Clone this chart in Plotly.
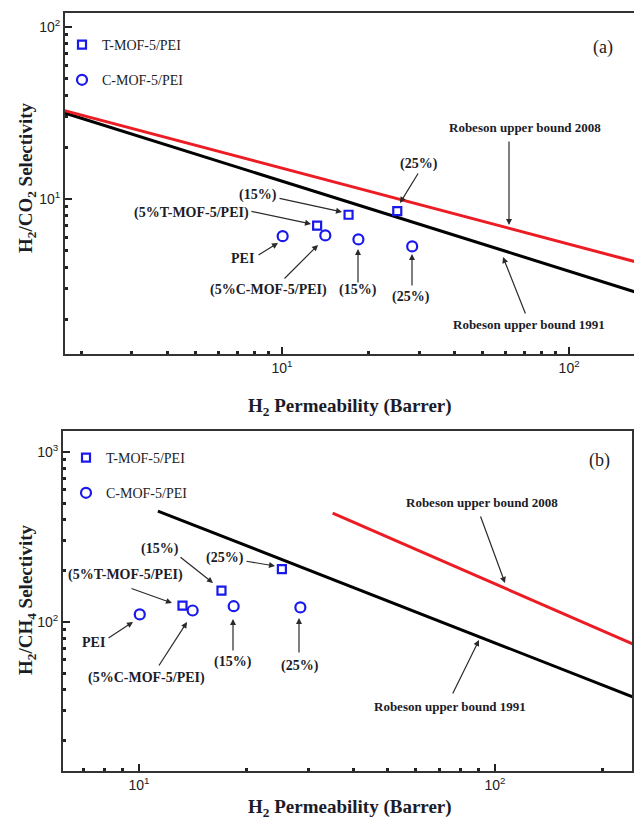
import plotly.graph_objects as go

W, H = 634, 819

# ---------------- data ----------------
perm_T = [13.25, 17.05, 25.2]            # T-MOF-5/PEI : 5 %, 15 %, 25 %
perm_C = [10.05, 14.15, 18.45, 28.4]     # PEI, C-MOF-5/PEI : 5 %, 15 %, 25 %
sel_co2_T = [7.0, 8.1, 8.5]
sel_co2_C = [6.08, 6.14, 5.82, 5.3]
sel_ch4_T = [125, 153, 205]
sel_ch4_C = [111, 117, 124, 122]

rob91_co2_x = [1.73, 169]
rob91_co2_y = [31.8, 2.89]
rob08_co2_x = [1.73, 169]
rob08_co2_y = [32.8, 4.33]
rob91_ch4_x = [11.3, 245]
rob91_ch4_y = [450, 36.2]
rob08_ch4_x = [35, 245]
rob08_ch4_y = [438, 74]

tick_vals_x = [10, 100]
tick_text_x = ["10<sup>1</sup>", "10<sup>2</sup>"]
tick_vals_y_top = [10, 100]
tick_text_y_top = ["10<sup>1</sup>", "10<sup>2</sup>"]
tick_vals_y_bot = [100, 1000]
tick_text_y_bot = ["10<sup>2</sup>", "10<sup>3</sup>"]
minor_digits = [2, 3, 4, 5, 6, 7, 8, 9]
minor_decades = [1, 10, 100, 1000]
minor_vals = [d * m for d in minor_decades for m in minor_digits]

BLUE = "rgb(25,25,235)"
RED = "rgb(237,28,36)"
SERIF = "Liberation Serif, Times New Roman, serif"
SANS = "Liberation Sans Narrow, Arial Narrow, Liberation Sans, Arial, sans-serif"
TXT = "#1c1c28"

fig = go.Figure()

# top panel
fig.add_trace(go.Scatter(x=rob91_co2_x, y=rob91_co2_y, mode="lines", line=dict(color="black", width=3),
                         showlegend=False, xaxis="x", yaxis="y"))
fig.add_trace(go.Scatter(x=rob08_co2_x, y=rob08_co2_y, mode="lines", line=dict(color=RED, width=3),
                         showlegend=False, xaxis="x", yaxis="y"))
fig.add_trace(go.Scatter(x=perm_T, y=sel_co2_T, mode="markers", name="T-MOF-5/PEI",
                         marker=dict(symbol="square-open", size=8, color=BLUE, line=dict(width=2.2)),
                         xaxis="x", yaxis="y", legend="legend", legendgroup="a1"))
fig.add_trace(go.Scatter(x=perm_C, y=sel_co2_C, mode="markers", name="C-MOF-5/PEI",
                         marker=dict(symbol="circle-open", size=10, color=BLUE, line=dict(width=2.2)),
                         xaxis="x", yaxis="y", legend="legend", legendgroup="a2"))

# bottom panel
fig.add_trace(go.Scatter(x=rob91_ch4_x, y=rob91_ch4_y, mode="lines", line=dict(color="black", width=3),
                         showlegend=False, xaxis="x2", yaxis="y2"))
fig.add_trace(go.Scatter(x=rob08_ch4_x, y=rob08_ch4_y, mode="lines", line=dict(color=RED, width=3),
                         showlegend=False, xaxis="x2", yaxis="y2"))
fig.add_trace(go.Scatter(x=perm_T, y=sel_ch4_T, mode="markers", name="T-MOF-5/PEI",
                         marker=dict(symbol="square-open", size=8, color=BLUE, line=dict(width=2.2)),
                         xaxis="x2", yaxis="y2", legend="legend2", legendgroup="b1"))
fig.add_trace(go.Scatter(x=perm_C, y=sel_ch4_C, mode="markers", name="C-MOF-5/PEI",
                         marker=dict(symbol="circle-open", size=10, color=BLUE, line=dict(width=2.2)),
                         xaxis="x2", yaxis="y2", legend="legend2", legendgroup="b2"))

axis_common = dict(type="log", showgrid=False, zeroline=False, showline=True, linecolor="#333",
                   linewidth=2, ticks="inside", ticklen=7, tickwidth=2, tickcolor="#222",
                   tickfont=dict(family=SANS, size=14, color="#222"),
                   minor=dict(ticks="inside", ticklen=3, tickwidth=2.5, tickcolor="#222",
                              tickmode="array", tickvals=minor_vals, showgrid=False))

def dom_x(a, b):
    return [a / W, b / W]

def dom_y(top, bottom):
    return [1 - bottom / H, 1 - top / H]

fig.update_layout(
    width=W, height=H, margin=dict(l=0, r=0, t=0, b=0),
    paper_bgcolor="white", plot_bgcolor="white",
    xaxis=dict(axis_common, domain=dom_x(65, 634), range=[0.244, 2.226], anchor="y",
               tickmode="array", tickvals=tick_vals_x, ticktext=tick_text_x, mirror=True),
    yaxis=dict(axis_common, domain=dom_y(13, 354), range=[0.099, 2.081], anchor="x",
               tickmode="array", tickvals=tick_vals_y_top, ticktext=tick_text_y_top),
    xaxis2=dict(axis_common, domain=dom_x(63, 632), range=[0.7865, 2.385], anchor="y2",
                tickmode="array", tickvals=tick_vals_x, ticktext=tick_text_x, mirror=True),
    yaxis2=dict(axis_common, domain=dom_y(431, 771), range=[1.124, 3.124], anchor="x2",
                tickmode="array", tickvals=tick_vals_y_bot, ticktext=tick_text_y_bot, mirror=True),
    legend=dict(x=62 / W, y=1 - 29 / H, xanchor="left", yanchor="top", bgcolor="rgba(0,0,0,0)",
                font=dict(family=SERIF, size=14, color="#222"), tracegroupgap=14, itemwidth=30),
    legend2=dict(x=66 / W, y=1 - 442 / H, xanchor="left", yanchor="top", bgcolor="rgba(0,0,0,0)",
                 font=dict(family=SERIF, size=14, color="#222"), tracegroupgap=14, itemwidth=30),
)

ann = []

def label(text, x, y, size=14, bold=True, color=TXT, angle=0, family=SERIF):
    t = "<b>%s</b>" % text if bold else text
    ann.append(dict(text=t, x=x / W, y=1 - y / H, xref="paper", yref="paper", showarrow=False,
                    xanchor="center", yanchor="middle", textangle=angle,
                    font=dict(family=family, size=size, color=color)))

def arrow(tail, tip):
    ann.append(dict(text="", x=tip[0] / W, y=1 - tip[1] / H, xref="paper", yref="paper",
                    ax=tail[0] - tip[0], ay=tail[1] - tip[1], showarrow=True, arrowhead=2,
                    arrowsize=1, arrowwidth=1.2, arrowcolor="#2a2a2a", standoff=0, startstandoff=0))

# axis titles
label("H<sub>2</sub> Permeability (Barrer)", 350, 407, size=19)
label("H<sub>2</sub>/CO<sub>2</sub> Selectivity", 27, 178, size=19, angle=-90)
label("H<sub>2</sub> Permeability (Barrer)", 350, 808, size=19)
label("H<sub>2</sub>/CH<sub>4</sub> Selectivity", 27, 600, size=19, angle=-90)

# panel letters
label("(a)", 603, 47, size=18, bold=False, color="#222")
label("(b)", 599, 460, size=18, bold=False, color="#222")

# top panel annotations
label("(15%)", 258, 195); arrow((278, 198), (342, 212))
label("(5%T-MOF-5/PEI)", 191, 213); arrow((250, 211), (311, 224))
label("PEI", 242, 258); arrow((257, 256), (278, 243))
label("(5%C-MOF-5/PEI)", 268, 290); arrow((283, 280), (318, 245))
label("(15%)", 358, 290); arrow((358, 284), (358, 249))
label("(25%)", 411, 297); arrow((412, 287), (412, 254))
label("Robeson upper bound 1991", 529, 325, size=13); arrow((526, 315), (503, 257))
label("Robeson upper bound 2008", 525, 127, size=13); arrow((509, 140), (509, 225))
label("(25%)", 419, 164); arrow((419, 172), (400, 203))

# bottom panel annotations
label("(15%)", 160, 549); arrow((179, 556), (213, 583))
label("(25%)", 225, 558); arrow((245, 561), (275, 566))
label("(5%T-MOF-5/PEI)", 125, 575); arrow((130, 588), (172, 603))
label("PEI", 93, 642); arrow((107, 639), (133, 622))
label("(5%C-MOF-5/PEI)", 146, 678); arrow((158, 667), (187, 622))
label("(15%)", 233, 662); arrow((233, 652), (233, 619))
label("(25%)", 300, 666); arrow((299, 654), (299, 618))
label("Robeson upper bound 1991", 450, 706, size=13); arrow((452, 695), (479, 640))
label("Robeson upper bound 2008", 482, 502, size=13); arrow((480, 515), (505, 583))

fig.update_layout(annotations=ann)
fig.write_html("out.html")
